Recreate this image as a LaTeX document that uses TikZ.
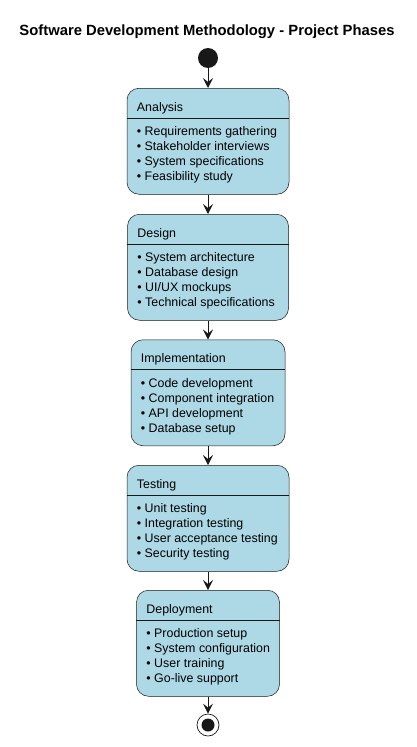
\documentclass[tikz,border=0pt]{standalone}
\usepackage{fontspec}
\setmainfont{Liberation Sans}
\usetikzlibrary{arrows.meta,calc}
\definecolor{boxfill}{HTML}{ADD8E6}
\definecolor{edgecol}{HTML}{181818}
\tikzset{
  phase/.style={draw=edgecol, fill=boxfill, rounded corners=12pt, line width=0.5pt,
    inner sep=0pt, anchor=north, minimum height=106pt},
  hdr/.style={anchor=base west, inner sep=0pt, font=\fontsize{12.4}{14}\selectfont, text=black},
  itemtxt/.style={anchor=base west, inner sep=0pt, font=\fontsize{12.4}{14}\selectfont, text=black},
  sepline/.style={draw=edgecol, line width=0.8pt},
  flow/.style={draw=edgecol, line width=1pt, -{Stealth[length=10pt,width=10pt,inset=4pt]}},
}
\newcommand\PhaseBox[6]{%
  \node[phase, minimum width=#4pt] (#1) at (#2,#3) {};
  \node[hdr] (#1-title) at ($(#1.north west)+(10,23)$) {#5};
  \draw[sepline] ($(#1.north west)+(0,30)$) -- ($(#1.north east)+(0,30)$);
  \foreach \t [count=\i] in {#6} {
    \node[itemtxt] (#1-i\i) at ($(#1.north west)+(10,32.5+15*\i)$) {\textbullet\ \t};
  }%
}
\begin{document}
\begin{tikzpicture}[x=1pt,y=-1pt]
\useasboundingbox (0,0) rectangle (416,747);
\node[anchor=base, inner sep=0pt, font=\bfseries\fontsize{14.8}{16}\selectfont] (title) at (207,35.5)
  {Software Development Methodology - Project Phases};
\node[circle, fill=edgecol, minimum size=20pt, inner sep=0pt] (start) at (208,58) {};
\PhaseBox{analysis}{208}{88}{162}{Analysis}{Requirements gathering,Stakeholder interviews,System specifications,Feasibility study}
\PhaseBox{design}{208}{214}{161}{Design}{System architecture,Database design,UI/UX mockups,Technical specifications}
\PhaseBox{impl}{208}{339.5}{154}{Implementation}{Code development,Component integration,API development,Database setup}
\PhaseBox{testing}{208}{465}{162}{Testing}{Unit testing,Integration testing,User acceptance testing,Security testing}
\PhaseBox{deploy}{208}{590}{143}{Deployment}{Production setup,System configuration,User training,Go-live support}
\node[circle, draw=edgecol, line width=0.7pt, fill=white, minimum size=22pt, inner sep=0pt] (end) at (208,725) {};
\node[circle, fill=edgecol, minimum size=13pt, inner sep=0pt] (endin) at (end.center) {};
\draw[flow] (start) -- (analysis);
\draw[flow] (analysis) -- (design);
\draw[flow] (design) -- (impl);
\draw[flow] (impl) -- (testing);
\draw[flow] (testing) -- (deploy);
\draw[flow] (deploy) -- (end);
\end{tikzpicture}
\end{document}
